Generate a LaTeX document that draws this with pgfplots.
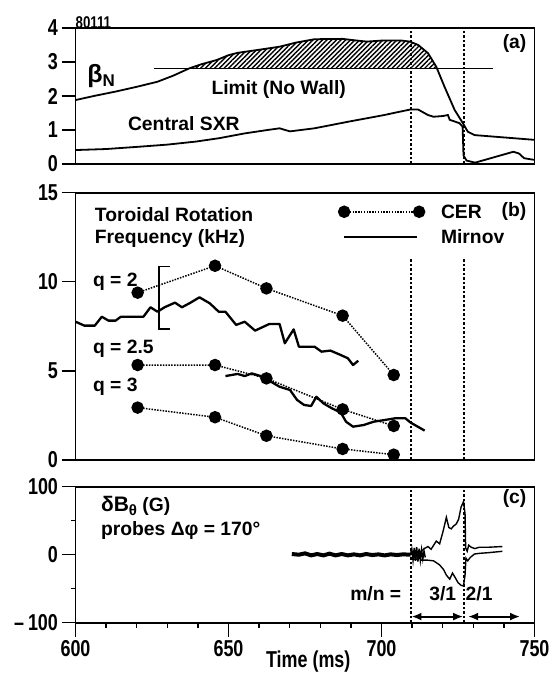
\documentclass[border=0pt]{standalone}
\usepackage{fontspec}
\setmainfont{Liberation Sans}
\newfontfamily\tickfont{Liberation Sans}[FakeStretch=0.78]
\usepackage{pgfplots}
\pgfplotsset{compat=1.18}
\usetikzlibrary{patterns,patterns.meta,arrows.meta}
\newcommand\tfont{\tickfont\bfseries\fontsize{23}{23}\selectfont}
\newcommand\lfont{\bfseries\fontsize{19.3}{21}\selectfont}
\pgfplotsset{
  panel/.style={scale only axis, width=459pt, xmin=600, xmax=750,
    anchor=south west,
    axis line style={line width=1.7pt},
    every tick/.style={line width=1.4pt, black},
    tick align=outside, major tick length=14pt, minor tick length=5pt,
    ytick pos=left, xtick pos=bottom,
    tick label style={font=\tfont},
    /pgf/number format/assume math mode=true,
    clip=false},
  vdash/.style={black, line width=2pt, dash pattern=on 2.5pt off 2pt},
  cer/.style={black, line width=1.5pt, dash pattern=on 1.5pt off 1.3pt, mark=*, mark size=5.5pt, mark options={solid}},
  mir/.style={black, line width=2.3pt, line join=round},
}
\begin{document}
\begin{tikzpicture}
% ---------------- panel (a)
\begin{axis}[panel, at={(75.5pt,511pt)}, height=136pt, ymin=0, ymax=4,
  ytick={0,1,2,3,4}, xtick=\empty]
\addplot[draw=none, pattern={Lines[angle=45,distance=3.3pt,line width=1.4pt]}] coordinates {
(637.1,2.81)(641,2.93)(646.2,3.06)(650,3.2)(653,3.27)(660,3.36)(666.7,3.45)(672,3.57)(678.1,3.67)(687.3,3.68)(691,3.64)(695.2,3.6)(700,3.63)(706.6,3.63)(709.3,3.6)(712,3.5)(715.2,3.26)(717.9,2.86)(718.1,2.81)};
\addplot[black, line width=1.8pt] coordinates {
(600,1.88)(606,2.0)(613.1,2.13)(620,2.27)(626.8,2.42)(632,2.6)(637.1,2.81)(641,2.93)(646.2,3.06)(650,3.2)(653,3.27)(660,3.36)(666.7,3.45)(672,3.57)(678.1,3.67)(687.3,3.68)(691,3.64)(695.2,3.6)(700,3.63)(706.6,3.63)(709.3,3.6)(712,3.5)(715.2,3.26)(717.9,2.86)(720.6,2.27)(723.9,1.59)(726.6,1.2)(728.2,0.95)(730.4,0.85)(750,0.71)};
\addplot[black, line width=1.8pt] coordinates {(625.7,2.81)(736.3,2.81)};
\addplot[black, line width=1.8pt] coordinates {
(600,0.41)(610,0.44)(621.1,0.51)(630,0.57)(639.4,0.66)(647,0.76)(655.3,0.9)(662,0.99)(666.7,1.05)(668.5,1.0)(670.1,0.96)(678.1,1.05)(689.5,1.25)(700.9,1.44)(705,1.52)(709.3,1.6)(712,1.6)(715.2,1.44)(717,1.39)(720,1.41)(721.7,1.44)(722.3,1.3)(725.5,1.2)(726.5,1.1)(726.8,0.25)(727.8,0.1)(730.6,0.04)(743.1,0.36)(744.9,0.31)(746.6,0.17)(750,0.12)};
\addplot[vdash] coordinates {(709.5,0)(709.5,4)};
\addplot[vdash] coordinates {(727,0)(727,4)};
\node[anchor=west, inner sep=1pt] at (axis cs:603.5,2.6) {\bfseries\fontsize{25}{25}\selectfont β\fontsize{17}{17}\selectfont\raisebox{-4pt}{N}};
\node[font=\lfont] at (axis cs:666.4,2.18) {Limit (No Wall)};
\node[font=\lfont] at (axis cs:635.4,1.18) {Central SXR};
\node[font=\lfont, anchor=east] at (axis cs:748.5,3.55) {(a)};
\node[font=\tickfont\bfseries\fontsize{17}{17}\selectfont, anchor=south west, inner sep=0pt] at (rel axis cs:0,0.99) {80111};
\end{axis}
% ---------------- panel (b)
\begin{axis}[panel, at={(75.5pt,215pt)}, height=267.3pt, ymin=0, ymax=15,
  ytick={0,5,10,15}, xtick=\empty]
\addplot[cer] coordinates {(620.3,9.39)(645.6,10.9)(662.4,9.63)(687.3,8.10)(704.0,4.77)};
\addplot[cer] coordinates {(620.3,5.33)(645.6,5.33)(662.4,4.58)(687.3,2.84)(704.0,1.91)};
\addplot[cer] coordinates {(620.3,2.94)(645.6,2.40)(662.4,1.36)(687.3,0.62)(704.0,0.30)};
\addplot[mir] coordinates {
(600.0,7.76)(602.9,7.54)(606.3,7.54)(608.6,8.04)(610.8,7.82)(613.1,7.82)(614.8,8.04)(622.2,8.04)(624.5,8.57)(626.8,8.32)(629.1,8.57)(632.5,8.83)(634.8,8.57)(637.6,8.83)(640.5,9.13)(643.9,8.79)(646.8,8.32)(649.0,8.32)(652.5,7.58)(655.3,7.76)(658.7,7.26)(663.3,7.63)(666.7,7.63)(668.4,6.55)(671.3,7.33)(673.0,6.36)(678.1,6.36)(680.4,6.08)(683.3,6.14)(686.7,5.89)(689.0,5.71)(690.7,5.33)(692.4,5.57)};
\addplot[mir] coordinates {
(649.0,4.71)(653.0,4.83)(655.3,4.71)(657.6,4.86)(660.5,4.71)(663.3,4.45)(666.7,4.11)(670.1,3.93)(672.4,3.37)(674.7,3.09)(677.0,3.03)(678.7,3.55)(681.0,3.18)(683.8,2.90)(686.7,2.66)(688.4,2.15)(690.7,1.87)(694.1,1.96)(697.5,2.15)(700.9,2.24)(704.4,2.34)(707.8,2.34)(709.5,2.10)(714.1,1.65)};
\addplot[black, line width=1.7pt] coordinates {(630.8,10.85)(627.4,10.85)(627.4,7.35)(630.8,7.35)};
\addplot[vdash] coordinates {(709.5,0)(709.5,11.3)};
\addplot[vdash] coordinates {(727,0)(727,11.3)};
% legend
\addplot[cer] coordinates {(687.8,13.93)(712.3,13.93)};
\addplot[mir] coordinates {(687.8,12.53)(711.7,12.53)};
\node[font=\lfont, anchor=west] at (axis cs:718.3,13.93) {CER};
\node[font=\lfont, anchor=west] at (axis cs:718.3,12.53) {Mirnov};
\node[font=\lfont, anchor=east] at (axis cs:748.5,13.93) {(b)};
\node[font=\lfont, anchor=west] at (axis cs:605.2,13.75) {Toroidal Rotation};
\node[font=\lfont, anchor=west] at (axis cs:605.2,12.45) {Frequency (kHz)};
\node[font=\lfont, anchor=west] at (axis cs:604.6,10.0) {q = 2};
\node[font=\lfont, anchor=west] at (axis cs:604.6,6.27) {q = 2.5};
\node[font=\lfont, anchor=west] at (axis cs:604.6,4.1) {q = 3};
\end{axis}
% ---------------- panel (c)
\begin{axis}[panel, at={(75.5pt,52.3pt)}, height=136pt, ymin=-100, ymax=100,
  ytick={-100,0,100}, yticklabels={{–\,100},0,100}, minor ytick={-50,50},
  xtick={600,650,700,750}, minor x tick num=4]
\addplot[black, line width=4pt] coordinates {
(670.7,1)(673,0)(675,2)(677,-1)(679,1)(681,-1)(683,1.5)(685,-1)(687,1)(689,-1)(691,0.5)(693,-1)(695,1)(697,-0.5)(699,0.5)(701,-1)(703,0.5)(705,-0.5)(707,0.5)(709.5,0)};
\addplot[black, line width=1.5pt] coordinates {
(709.5,0)(709.9,8)(710.3,-8)(710.7,10)(711.1,-9)(711.5,11)(711.9,-10)(712.3,9)(712.7,-8)(713.1,7)(713.5,-6)(713.9,5)(714.3,-4)};
\addplot[black, line width=1.4pt] coordinates {
(709.5,4)(711,6)(712.5,3)(714,9)(715.2,12)(716.2,8)(717.9,20)(719,16)(720.1,34)(721.2,55)(722,40)(722.8,38)(723.5,42)(724.4,45)(725.2,52)(726,70)(726.8,78)(727.3,60)(727.5,10)(728,5)(728.5,14)(729.3,11)(730.5,9)(732,11)(735,11)(739.5,12)};
\addplot[black, line width=1.4pt] coordinates {
(709.5,-4)(711,-7)(712.5,-5)(713,-8)(715,-8)(717,-9)(719,-15)(720.3,-22)(721.2,-30)(722.3,-36)(723.2,-27)(724,-33)(725,-41)(726,-45)(726.8,-46)(727.3,-30)(727.6,-5)(728.2,-9)(729,-4)(730.4,1)(732,2)(735,3)(739.5,5)};
\addplot[vdash] coordinates {(709.5,-100)(709.5,100)};
\addplot[vdash] coordinates {(727,-100)(727,100)};
\addplot[black, line width=2pt, {Latex[length=10pt,width=8pt]}-{Latex[length=10pt,width=8pt]}] coordinates {(709.8,-91)(726.7,-91)};
\addplot[black, line width=2pt, {Latex[length=10pt,width=8pt]}-{Latex[length=10pt,width=8pt]}] coordinates {(728.3,-91)(745.3,-91)};
\node[anchor=west] at (axis cs:607.2,72) {\bfseries\fontsize{21}{21}\selectfont δB\fontsize{15}{15}\selectfont\raisebox{-4pt}{θ}\fontsize{19.3}{21}\selectfont\ (G)};
\node[font=\lfont, anchor=west] at (axis cs:607.2,35) {probes Δφ = 170°};
\node[font=\lfont, anchor=east] at (axis cs:748.5,83) {(c)};
\node[font=\lfont, anchor=east] at (axis cs:707.6,-58) {m/n =};
\node[font=\lfont] at (axis cs:720,-58) {3/1};
\node[font=\lfont] at (axis cs:731.9,-58) {2/1};
\node[font=\tickfont\bfseries\fontsize{23}{23}\selectfont, yshift=-39pt] at (rel axis cs:0.507,0) {Time (ms)};
\end{axis}
\pgfresetboundingbox
\path (0pt,0pt) rectangle (549pt,675pt);
\end{tikzpicture}
\end{document}
